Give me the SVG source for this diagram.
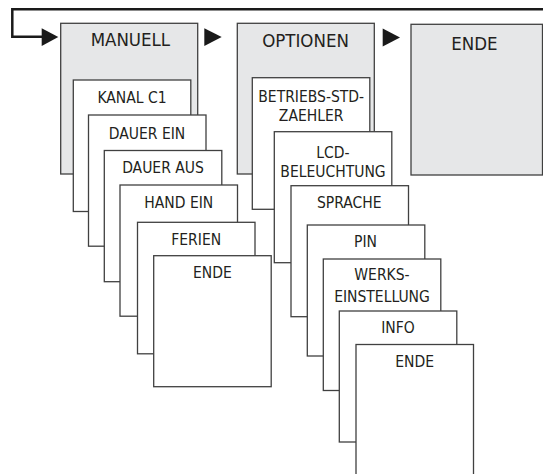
<svg xmlns="http://www.w3.org/2000/svg" width="543" height="474" viewBox="0 0 543 474">
<style>
  .main { fill: #e6e7e8; stroke: #404040; stroke-width: 1.3; }
  .sub { fill: #ffffff; stroke: #404040; stroke-width: 1.3; }
  .t { font-family: "DejaVu Sans Condensed", "DejaVu Sans", sans-serif; font-stretch: condensed; fill: #231f20; text-anchor: middle; }
  .tt { font-size: 18.5px; }
  .ts { font-size: 15.5px; }
  .line { fill: none; stroke: #1a1a1a; stroke-width: 2.5; }
  .arr { fill: #1a1a1a; stroke: none; }
</style>
<rect width="543" height="474" fill="#ffffff"/>
<g id="connectors">
  <path class="line" d="M543,9.3 H12.3 V36.8 H43"/>
  <polygon class="arr" points="41.7,28.3 58.3,37 41.7,46"/>
  <polygon class="arr" points="204.3,28.3 221.7,37 204.3,46"/>
  <polygon class="arr" points="382.7,28.5 400,37.5 382.7,46.5"/>
</g>
<g id="manuell">
  <rect class="main" x="60.7" y="23.3" width="137" height="150.7"/>
  <text class="t tt" x="130.4" y="46">MANUELL</text>
</g>
<g id="kanal-c1">
  <rect class="sub" x="73.3" y="80" width="117.5" height="131.5"/>
  <text class="t ts" x="132" y="103.3">KANAL C1</text>
</g>
<g id="dauer-ein">
  <rect class="sub" x="88.5" y="115" width="117.5" height="131.2"/>
  <text class="t ts" x="147" y="139">DAUER EIN</text>
</g>
<g id="dauer-aus">
  <rect class="sub" x="104.3" y="150.5" width="117.5" height="131.2"/>
  <text class="t ts" x="163" y="173.3">DAUER AUS</text>
</g>
<g id="hand-ein">
  <rect class="sub" x="120" y="185" width="117.5" height="131.2"/>
  <text class="t ts" x="178.8" y="207.5">HAND EIN</text>
</g>
<g id="ferien">
  <rect class="sub" x="137.5" y="222.3" width="117.5" height="131.5"/>
  <text class="t ts" x="196.2" y="245">FERIEN</text>
</g>
<g id="manuell-ende">
  <rect class="sub" x="153.7" y="255.7" width="117.5" height="131"/>
  <text class="t ts" x="212.4" y="277.7">ENDE</text>
</g>
<g id="optionen">
  <rect class="main" x="237.3" y="23.3" width="137" height="150.7"/>
  <text class="t tt" x="305.5" y="47">OPTIONEN</text>
</g>
<g id="betriebs-std-zaehler">
  <rect class="sub" x="252.3" y="77.7" width="117.5" height="131.6"/>
  <text class="t ts" x="311.2" y="101.5">BETRIEBS-STD-</text>
  <text class="t ts" x="311.2" y="121.3">ZAEHLER</text>
</g>
<g id="lcd-beleuchtung">
  <rect class="sub" x="274.3" y="131.7" width="117.5" height="131"/>
  <text class="t ts" x="333" y="157.8">LCD-</text>
  <text class="t ts" x="333" y="176.5">BELEUCHTUNG</text>
</g>
<g id="sprache">
  <rect class="sub" x="291" y="185.7" width="117.5" height="131"/>
  <text class="t ts" x="349.3" y="208.3">SPRACHE</text>
</g>
<g id="pin">
  <rect class="sub" x="307.3" y="225" width="117.5" height="131"/>
  <text class="t ts" x="365.5" y="246.7">PIN</text>
</g>
<g id="werkseinstellung">
  <rect class="sub" x="323.3" y="259" width="117.5" height="131.5"/>
  <text class="t ts" x="382" y="280">WERKS-</text>
  <text class="t ts" x="382" y="301.7">EINSTELLUNG</text>
</g>
<g id="info">
  <rect class="sub" x="339.3" y="311" width="117.5" height="131"/>
  <text class="t ts" x="398" y="332.7">INFO</text>
</g>
<g id="optionen-ende">
  <rect class="sub" x="356" y="344.5" width="117.5" height="131.5"/>
  <text class="t ts" x="414.7" y="366.7">ENDE</text>
</g>
<g id="ende">
  <rect class="main" x="411" y="24.3" width="131.5" height="150.7"/>
  <text class="t tt" x="474.5" y="50">ENDE</text>
</g>
</svg>
